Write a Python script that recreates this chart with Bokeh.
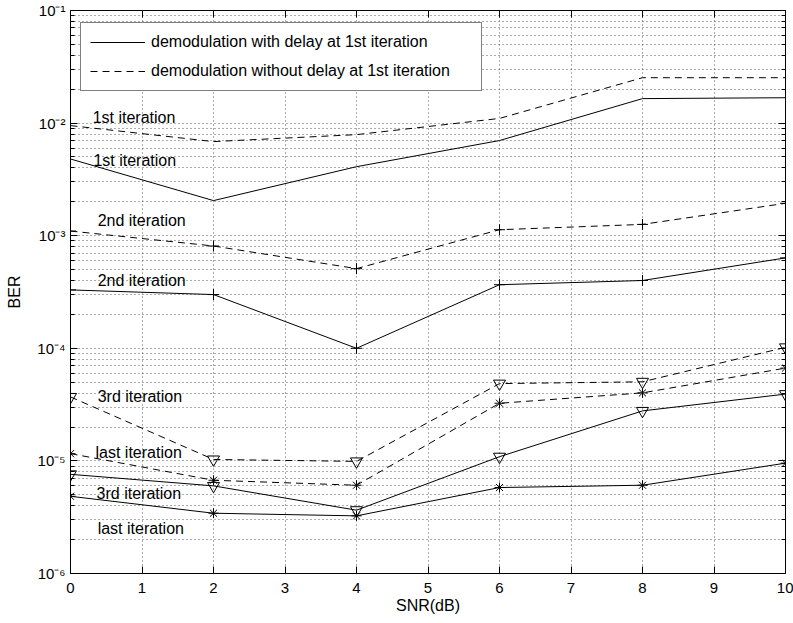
from bokeh.plotting import figure
from bokeh.models import (FixedTicker, CustomJSTickFormatter, LinearAxis, LogAxis,
                          Legend, LegendItem)
from bokeh.core.properties import value
from bokeh.embed import file_html
from bokeh.resources import INLINE

# SNR points (dB)
snr = [0, 2, 4, 6, 8, 10]

# BER curves: "delay" = demodulation with delay at 1st iteration (solid),
# "nodelay" = demodulation without delay at 1st iteration (dashed)
ber_delay_1st = [4.8e-3, 2.05e-3, 4.1e-3, 7.0e-3, 1.65e-2, 1.68e-2]
ber_nodelay_1st = [9.5e-3, 6.85e-3, 7.9e-3, 1.1e-2, 2.53e-2, 2.53e-2]
ber_delay_2nd = [3.3e-4, 3.0e-4, 1.0e-4, 3.67e-4, 4.0e-4, 6.35e-4]
ber_nodelay_2nd = [1.1e-3, 8.1e-4, 5.1e-4, 1.13e-3, 1.26e-3, 1.94e-3]
ber_delay_3rd = [7.6e-6, 6.0e-6, 3.65e-6, 1.09e-5, 2.78e-5, 3.92e-5]
ber_nodelay_3rd = [3.7e-5, 1.03e-5, 9.9e-6, 4.86e-5, 5.04e-5, 1.02e-4]
ber_delay_last = [4.85e-6, 3.43e-6, 3.25e-6, 5.8e-6, 6.08e-6, 9.55e-6]
ber_nodelay_last = [1.16e-5, 6.73e-6, 6.08e-6, 3.25e-5, 4.02e-5, 6.67e-5]

legend_labels = ["demodulation with delay at 1st iteration",
                 "demodulation without delay at 1st iteration"]

# curve annotations: text, x anchor (dB), BER anchor
note_text = ["1st iteration", "1st iteration", "2nd iteration", "2nd iteration",
             "3rd iteration", "last iteration", "3rd iteration", "last iteration"]
note_x = [0.31, 0.32, 0.38, 0.38, 0.38, 0.35, 0.365, 0.38]
note_y = [1.12e-2, 4.64e-3, 1.36e-3, 3.98e-4, 3.73e-5, 1.18e-5, 5.13e-6, 2.49e-6]

x_ticks = list(range(0, 11))
y_ticks = [1e-6, 1e-5, 1e-4, 1e-3, 1e-2, 1e-1]
y_minor = [m * 10.0 ** e for e in range(-6, -1) for m in range(2, 10)]

FONT = "Liberation Sans"
DASH = "7 5"
GRID_DASH = "1 3"
GRID_COLOR = "#5a5a5a"

p = figure(width=793, height=623, x_range=(0, 10), y_range=(1e-6, 1e-1),
           y_axis_type="log", output_backend="svg", toolbar_location=None,
           min_border_left=70, min_border_right=8, min_border_top=10,
           min_border_bottom=50)

p.background_fill_color = "white"
p.border_fill_color = "white"
p.outline_line_color = "black"
p.outline_line_width = 1

xticker = FixedTicker(ticks=x_ticks, minor_ticks=[])
yticker = FixedTicker(ticks=y_ticks, minor_ticks=y_minor)

pow_fmt = CustomJSTickFormatter(code="""
    const sup = {'-': '\u207b', '0': '\u2070', '1': '\u00b9', '2': '\u00b2', '3': '\u00b3',
                 '4': '\u2074', '5': '\u2075', '6': '\u2076', '7': '\u2077',
                 '8': '\u2078', '9': '\u2079'};
    const e = Math.round(Math.log10(tick)).toString();
    let s = '';
    for (const c of e) { s += sup[c]; }
    return '10' + s;
""")
blank_fmt = CustomJSTickFormatter(code="return '';")

def style_axis(ax):
    ax.axis_line_color = "black"
    ax.major_tick_line_color = "black"
    ax.minor_tick_line_color = "black"
    ax.major_tick_in = 7
    ax.major_tick_out = 0
    ax.minor_tick_in = 4
    ax.minor_tick_out = 0
    ax.major_label_text_font = FONT
    ax.major_label_text_color = "black"
    ax.major_label_text_font_size = "15px"
    ax.axis_label_text_font = FONT
    ax.axis_label_text_font_style = "normal"
    ax.axis_label_text_color = "black"
    ax.axis_label_text_font_size = "16px"

xa = p.xaxis[0]
xa.ticker = xticker
xa.axis_label = "SNR(dB)"
xa.major_label_standoff = 9
xa.axis_label_standoff = 1
style_axis(xa)

ya = p.yaxis[0]
ya.ticker = yticker
ya.formatter = pow_fmt
ya.axis_label = "BER"
ya.major_label_standoff = 5
ya.axis_label_standoff = 11
style_axis(ya)

# tick marks on the top and right edges of the box
top_ax = LinearAxis(ticker=xticker, formatter=blank_fmt, major_label_standoff=0)
style_axis(top_ax)
p.add_layout(top_ax, "above")

right_ax = LogAxis(ticker=yticker, formatter=blank_fmt, major_label_standoff=0)
style_axis(right_ax)
p.add_layout(right_ax, "right")

# dotted grid, including log minor lines
p.xgrid.ticker = xticker
p.ygrid.ticker = yticker
for g in (p.xgrid[0], p.ygrid[0]):
    g.grid_line_color = GRID_COLOR
    g.grid_line_dash = GRID_DASH
    g.grid_line_width = 1
p.ygrid.minor_grid_line_color = GRID_COLOR
p.ygrid.minor_grid_line_dash = GRID_DASH
p.ygrid.minor_grid_line_width = 1

# 1st iteration: lines only
r_solid = p.line(snr, ber_delay_1st, line_color="black", line_width=1)
r_dash = p.line(snr, ber_nodelay_1st, line_color="black", line_width=1, line_dash=DASH)

# 2nd iteration: plus markers
p.line(snr, ber_delay_2nd, line_color="black", line_width=1)
p.scatter(snr, ber_delay_2nd, marker="cross", size=11, line_color="black")
p.line(snr, ber_nodelay_2nd, line_color="black", line_width=1, line_dash=DASH)
p.scatter(snr, ber_nodelay_2nd, marker="cross", size=11, line_color="black")

# 3rd iteration: downward triangles
p.line(snr, ber_delay_3rd, line_color="black", line_width=1)
p.scatter(snr, ber_delay_3rd, marker="inverted_triangle", size=12,
          line_color="black", fill_color=None)
p.line(snr, ber_nodelay_3rd, line_color="black", line_width=1, line_dash=DASH)
p.scatter(snr, ber_nodelay_3rd, marker="inverted_triangle", size=12,
          line_color="black", fill_color=None)

# last iteration: asterisks
p.line(snr, ber_delay_last, line_color="black", line_width=1)
p.scatter(snr, ber_delay_last, marker="asterisk", size=10, line_color="black")
p.line(snr, ber_nodelay_last, line_color="black", line_width=1, line_dash=DASH)
p.scatter(snr, ber_nodelay_last, marker="asterisk", size=10, line_color="black")

# curve annotations
p.text(x=note_x, y=note_y, text=note_text, text_font=value(FONT),
       text_font_size="16px", text_color="black", text_align="left",
       text_baseline="middle")

legend = Legend(items=[LegendItem(label=legend_labels[0], renderers=[r_solid]),
                       LegendItem(label=legend_labels[1], renderers=[r_dash])],
                location=(10, 482))
legend.border_line_color = "black"
legend.border_line_width = 1
legend.background_fill_color = "white"
legend.background_fill_alpha = 1
legend.label_text_font = FONT
legend.label_text_font_size = "16px"
legend.label_text_color = "black"
legend.glyph_width = 55
legend.glyph_height = 20
legend.label_height = 20
legend.label_width = 321
legend.label_standoff = 6
legend.spacing = 9
legend.padding = 9
legend.margin = 0
p.add_layout(legend, "center")

open("out.html", "w").write(file_html(p, INLINE))
